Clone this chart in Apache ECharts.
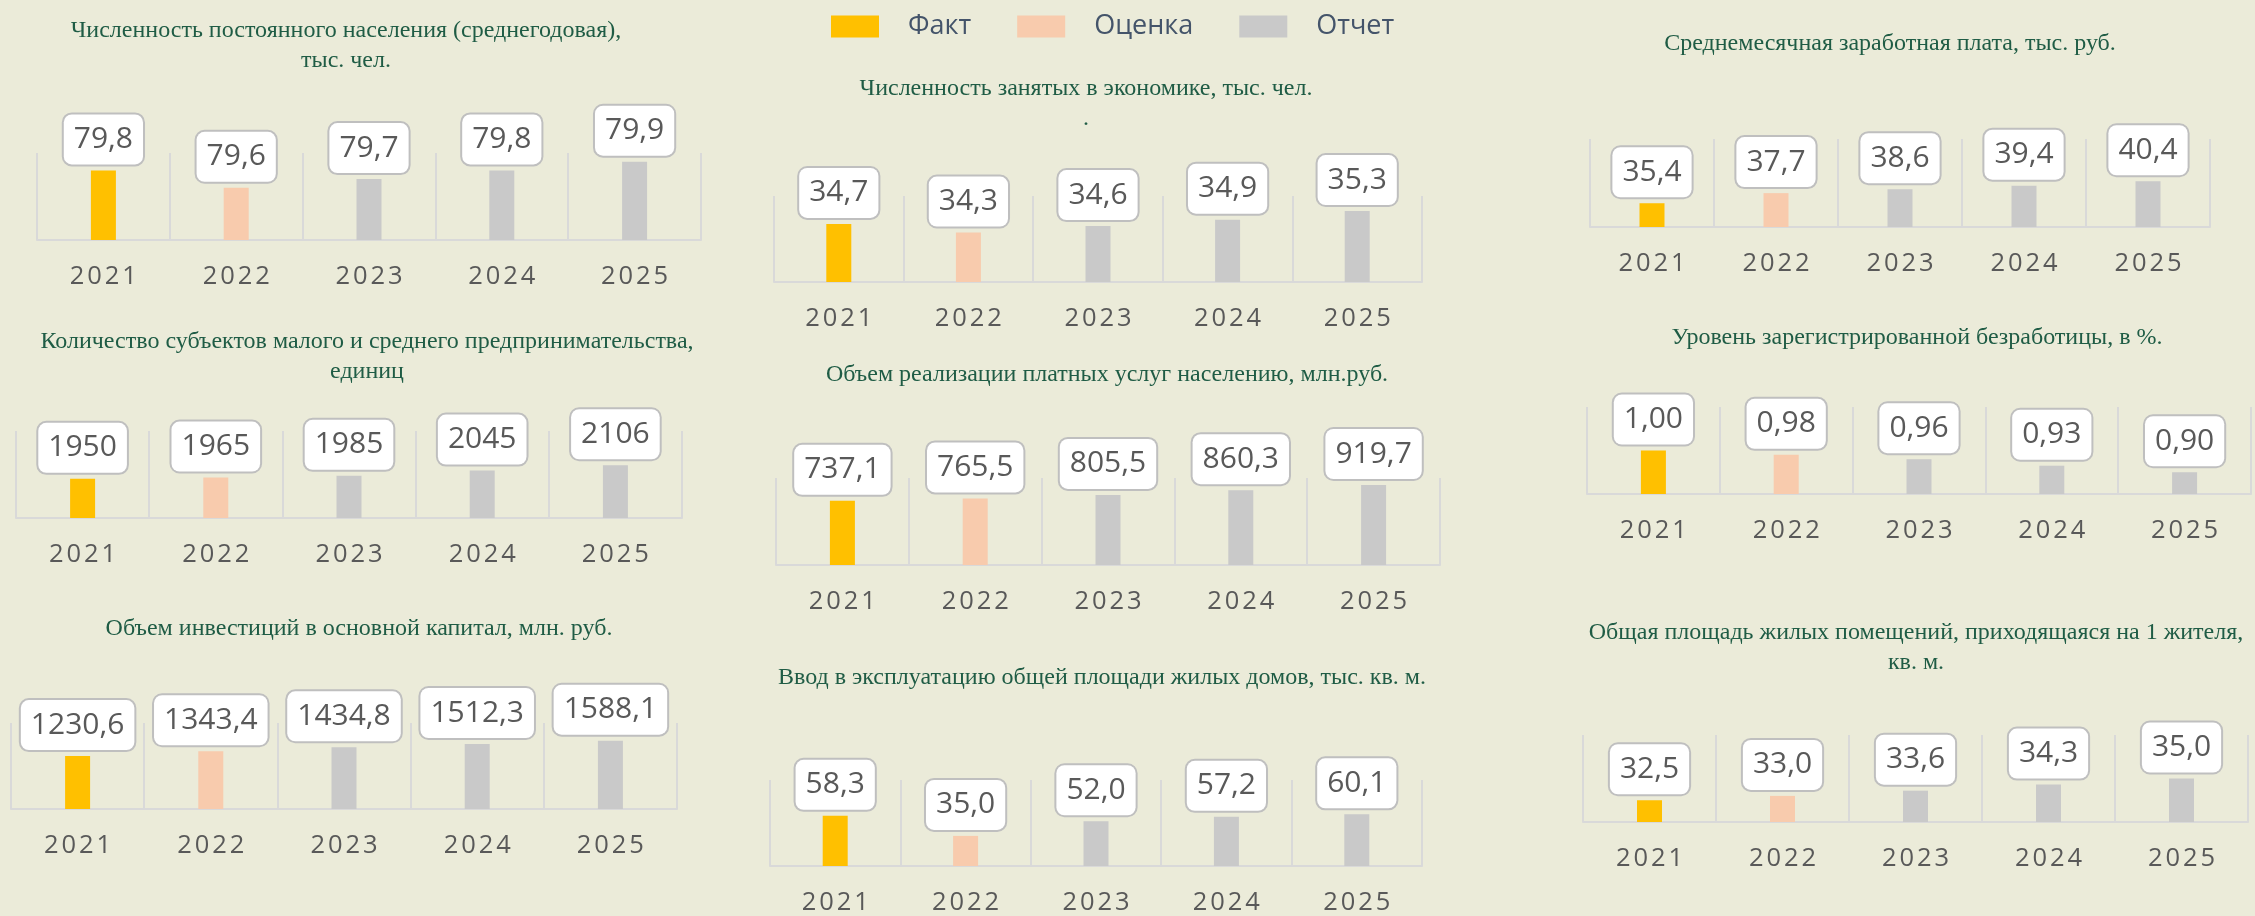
<!DOCTYPE html>
<html lang="ru">
<head>
<meta charset="utf-8">
<title>Основные показатели 2021-2025</title>
<script src="https://cdn.jsdelivr.net/npm/echarts@6/dist/echarts.min.js"></script>
<style>
    html, body { margin: 0; padding: 0; background: #EBEBD9; }
    #indicators { width: 2255px; height: 916px; }
</style>
</head>
<body>
<div id="indicators"></div>
<script>

// Data
// ------------------------------

var years = ['2021', '2022', '2023', '2024', '2025'];
var yearStatus = ['Факт', 'Оценка', 'Отчет', 'Отчет', 'Отчет'];
var statusNames = ['Факт', 'Оценка', 'Отчет'];

var population = [79.8, 79.6, 79.7, 79.8, 79.9];
var smeCount = [1950, 1965, 1985, 2045, 2106];
var investment = [1230.6, 1343.4, 1434.8, 1512.3, 1588.1];
var employed = [34.7, 34.3, 34.6, 34.9, 35.3];
var paidServices = [737.1, 765.5, 805.5, 860.3, 919.7];
var housingCommissioned = [58.3, 35.0, 52.0, 57.2, 60.1];
var salary = [35.4, 37.7, 38.6, 39.4, 40.4];
var unemployment = [1.00, 0.98, 0.96, 0.93, 0.90];
var housingPerResident = [32.5, 33.0, 33.6, 34.3, 35.0];


// Panels layout
// ------------------------------

var panels = [
    { title: 'Численность постоянного населения (среднегодовая),\nтыс. чел.', values: population, digits: 1, min: 79, max: 80,
      box: [37, 153, 664, 87], titleX: 346, titleY: 16 },
    { title: 'Количество субъектов малого и среднего предпринимательства,\nединиц', values: smeCount, digits: 0, min: 1500, max: 2500,
      box: [16, 431, 666, 87], titleX: 367, titleY: 327 },
    { title: 'Объем инвестиций в основной капитал, млн. руб.', values: investment, digits: 1, min: 0, max: 2000,
      box: [11, 723, 666, 86], titleX: 359, titleY: 614 },
    { title: 'Численность занятых в экономике, тыс. чел.\n.', values: employed, digits: 1, min: 32, max: 36,
      box: [774, 196, 648, 86], titleX: 1086, titleY: 74 },
    { title: 'Объем реализации платных услуг населению, млн.руб.', values: paidServices, digits: 1, min: 0, max: 1000,
      box: [776, 478, 664, 87], titleX: 1107, titleY: 360 },
    { title: 'Ввод в эксплуатацию общей площади жилых домов, тыс. кв. м.', values: housingCommissioned, digits: 1, min: 0, max: 100,
      box: [770, 780, 652, 87], titleX: 1102, titleY: 663 },
    { title: 'Среднемесячная заработная плата, тыс. руб.', values: salary, digits: 1, min: 30, max: 50,
      box: [1590, 139, 620, 88], titleX: 1890, titleY: 29 },
    { title: 'Уровень зарегистрированной безработицы, в %.', values: unemployment, digits: 2, min: 0.8, max: 1.2,
      box: [1587, 407, 664, 87], titleX: 1917, titleY: 323 },
    { title: 'Общая площадь жилых помещений, приходящаяся на 1 жителя,\nкв. м.', values: housingPerResident, digits: 1, min: 30, max: 40,
      box: [1583, 735, 665, 87], titleX: 1916, titleY: 618 }
];

var statusColors = {
    'Факт': '#FFC000',
    'Оценка': '#F8CBAD',
    'Отчет': '#C9C9C9'
};

var sansFont = '"Open Sans", "Noto Sans", sans-serif';
var serifFont = '"Liberation Serif", "Times New Roman", serif';


// Chart
// ------------------------------

var chartElement = document.getElementById('indicators');
var chart = echarts.init(chartElement, null, { renderer: 'canvas' });

var grids = [], titles = [], xAxes = [], yAxes = [], series = [];

panels.forEach(function(panel, i) {

    grids.push({
        left: panel.box[0],
        top: panel.box[1],
        width: panel.box[2],
        height: panel.box[3]
    });

    titles.push({
        text: panel.title,
        left: panel.titleX,
        top: panel.titleY,
        textAlign: 'center',
        padding: 0,
        textStyle: {
            fontFamily: serifFont,
            fontWeight: 'normal',
            fontSize: 24,
            lineHeight: 30,
            color: '#1F5C45'
        }
    });

    // Years with wide letter spacing
    xAxes.push({
        gridIndex: i,
        type: 'category',
        data: years,
        axisTick: { show: false },
        axisLine: { lineStyle: { color: '#D9D9D9', width: 2 } },
        splitLine: { show: true, lineStyle: { color: '#D9D9D9', width: 2 } },
        axisLabel: {
            interval: 0,
            margin: 24,
            formatter: function(v) {
                return v.split('').map(function(c) { return '{d|' + c + '}'; }).join('');
            },
            rich: {
                d: {
                    width: 17.5,
                    align: 'center',
                    fontFamily: sansFont,
                    fontSize: 25.5,
                    lineHeight: 26,
                    color: '#595959'
                }
            }
        }
    });

    yAxes.push({
        gridIndex: i,
        type: 'value',
        min: panel.min,
        max: panel.max,
        show: false,
        splitLine: { show: false }
    });

    statusNames.forEach(function(name) {
        series.push({
            name: name,
            type: 'bar',
            xAxisIndex: i,
            yAxisIndex: i,
            barWidth: 25,
            barGap: '-100%',
            itemStyle: { color: statusColors[name] },
            label: {
                show: true,
                position: 'top',
                distance: 6,
                formatter: function(p) {
                    return p.value.toFixed(panel.digits).replace('.', ',');
                },
                fontFamily: sansFont,
                fontSize: 30,
                lineHeight: 30,
                color: '#595959',
                backgroundColor: '#FFFFFF',
                borderColor: '#BFBFBF',
                borderWidth: 2,
                borderRadius: 8,
                padding: [10, 10]
            },
            data: panel.values.map(function(v, k) {
                return yearStatus[k] === name ? v : '-';
            })
        });
    });
});

chart.setOption({
    backgroundColor: '#EBEBD9',
    animation: false,
    title: titles,
    legend: {
        data: statusNames,
        left: 826,
        top: 8,
        icon: 'rect',
        itemWidth: 48,
        itemHeight: 22,
        itemGap: 46,
        selectedMode: false,
        textStyle: {
            fontFamily: sansFont,
            fontSize: 27,
            color: '#44546A',
            padding: [0, 0, 0, 24]
        }
    },
    grid: grids,
    xAxis: xAxes,
    yAxis: yAxes,
    series: series
});

window.addEventListener('resize', function() {
    chart.resize();
});
</script>
</body>
</html>
